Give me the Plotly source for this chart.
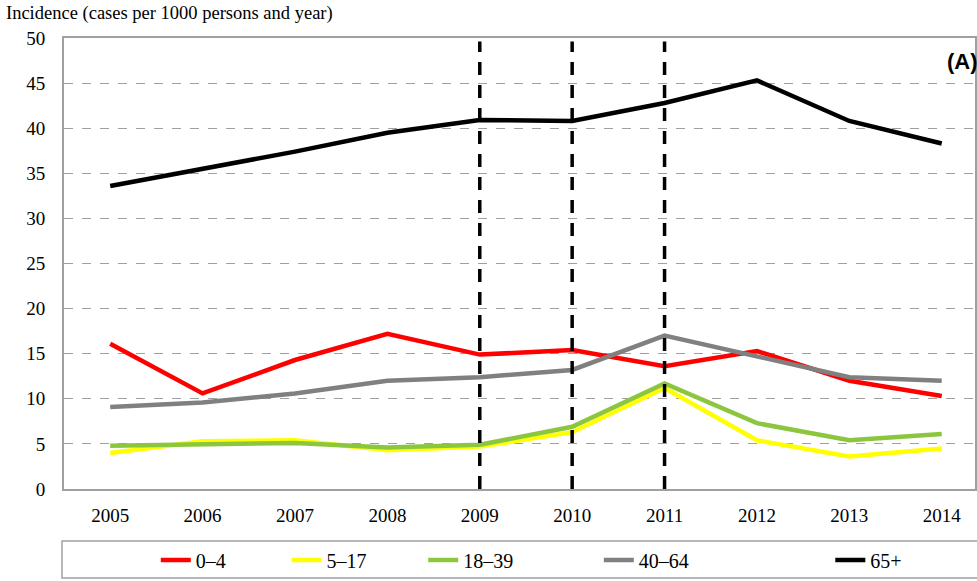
import plotly.graph_objects as go

years = [2005, 2006, 2007, 2008, 2009, 2010, 2011, 2012, 2013, 2014]
series_names = ["0–4", "5–17", "18–39", "40–64", "65+"]
v_0_4 = [16.1, 10.6, 14.3, 17.2, 14.9, 15.4, 13.6, 15.3, 12.0, 10.3]
v_5_17 = [4.0, 5.3, 5.4, 4.3, 4.7, 6.3, 11.2, 5.4, 3.6, 4.5]
v_18_39 = [4.8, 4.9, 5.1, 4.6, 4.9, 6.9, 11.7, 7.3, 5.4, 6.1]
v_40_64 = [9.1, 9.6, 10.6, 12.0, 12.4, 13.2, 17.0, 14.7, 12.4, 12.0]
v_65 = [33.6, 35.5, 37.4, 39.5, 40.9, 40.8, 42.8, 45.3, 40.8, 38.3]
colors = ["#ff0000", "#ffff00", "#8cc63f", "#808080", "#000000"]
marker_years = [2009, 2010, 2011]
y_ticks = list(range(0, 51, 5))

W, H = 977, 581
L, R, T, B = 64, 0, 38, 92
pw = W - L - R
ph = H - T - B

def px_x(p):
    return (p - L) / pw

def px_y(p):
    return (H - B - p) / ph

SERIF = "Liberation Serif, Times New Roman, serif"

fig = go.Figure()

for i, (name, vals, c) in enumerate(zip(series_names, [v_0_4, v_5_17, v_18_39, v_40_64, v_65], colors)):
    lg = "legend" if i == 0 else f"legend{i+1}"
    fig.add_trace(go.Scatter(x=years, y=vals, mode="lines", name=name,
                             line=dict(color=c, width=4.5), legend=lg))

for yr in marker_years:
    fig.add_trace(go.Scatter(x=[yr, yr], y=[0, 49.6], mode="lines", showlegend=False,
                             line=dict(color="black", width=3.5, dash="13px,10px"), hoverinfo="skip"))

legend_text_x = [196, 327, 464, 640, 872]
layout_legends = {}
for i, tx in enumerate(legend_text_x):
    key = "legend" if i == 0 else f"legend{i+1}"
    layout_legends[key] = dict(x=px_x(tx - 40), xanchor="left", y=px_y(560), yanchor="middle",
                               bgcolor="rgba(0,0,0,0)", borderwidth=0,
                               font=dict(family=SERIF, size=20, color="black"))

fig.update_layout(
    width=W, height=H,
    margin=dict(l=L, r=R, t=T, b=B),
    paper_bgcolor="white", plot_bgcolor="white",
    showlegend=True,
    **layout_legends,
    xaxis=dict(range=[2004.5, 2014.36], tickvals=years, ticktext=[str(y) for y in years],
               showgrid=False, zeroline=False, showline=True, linecolor="#a0a0a0", linewidth=2,
               mirror=True, ticks="", ticklabelstandoff=8,
               tickfont=dict(family=SERIF, size=19, color="black")),
    yaxis=dict(range=[0, 50], tickvals=y_ticks, showgrid=True, gridcolor="#a0a0a0", griddash="dash",
               gridwidth=1, zeroline=False, showline=True, linecolor="#a0a0a0", linewidth=2,
               mirror=True, ticks="", ticklabelstandoff=13,
               tickfont=dict(family=SERIF, size=19, color="black")),
    font=dict(family=SERIF, size=19, color="black"),
)

fig.add_annotation(text="Incidence (cases per 1000 persons and year)", xref="paper", yref="paper",
                   x=px_x(4), y=px_y(13), xanchor="left", yanchor="middle", showarrow=False,
                   font=dict(family=SERIF, size=18.5, color="black"))
fig.add_annotation(text="<b>(A)</b>", xref="paper", yref="paper",
                   x=px_x(982), y=px_y(61), xanchor="right", yanchor="middle", showarrow=False,
                   font=dict(family="Liberation Sans, Arial, sans-serif", size=22, color="black"))
fig.add_shape(type="rect", xref="paper", yref="paper", x0=px_x(62), x1=px_x(990),
              y0=px_y(578), y1=px_y(541), line=dict(color="#a0a0a0", width=1.5),
              fillcolor="rgba(0,0,0,0)")

fig.write_html("out.html")
